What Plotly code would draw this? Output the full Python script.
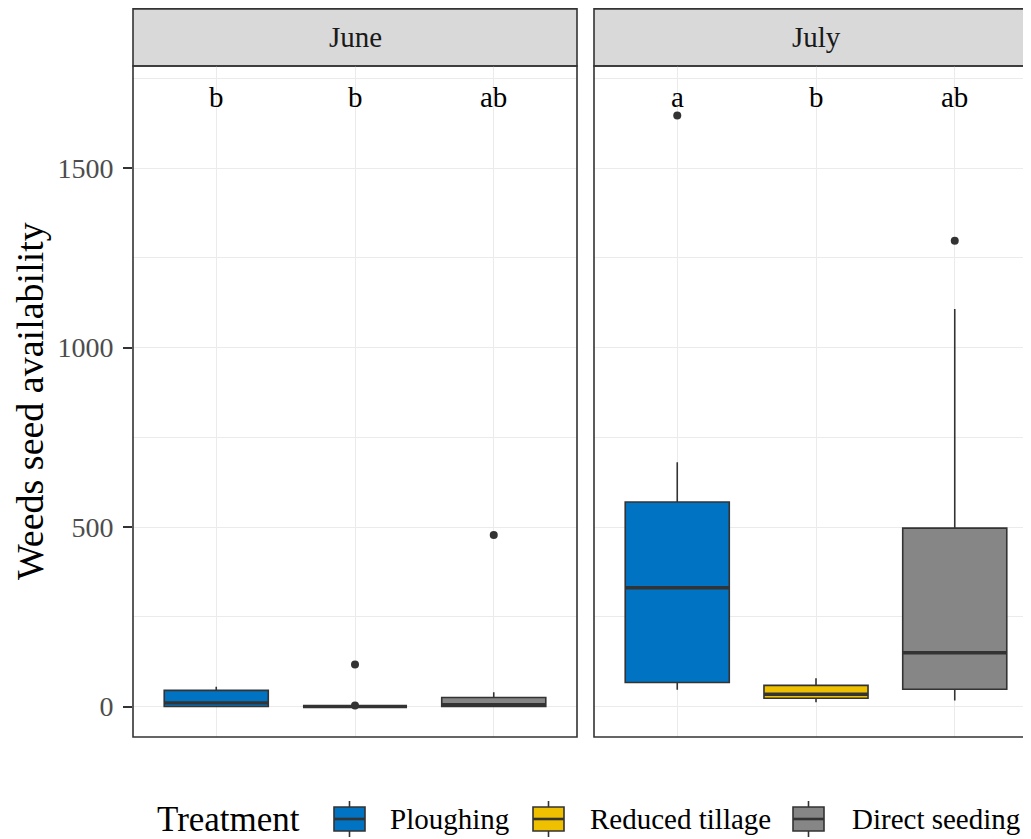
import plotly.graph_objects as go

# ---------------- data ----------------
months = ["June", "July"]
treatments = ["Ploughing", "Reduced tillage", "Direct seeding"]
colors = ["#0073C2", "#EFC000", "#868686"]

june_lower = [0, 0, 0]
june_q1 = [0, 0, 0]
june_median = [10, 0, 5]
june_q3 = [45, 0, 25]
june_upper = [55, 0, 40]
june_outliers = [[], [3, 117], [478]]
june_letters = ["b", "b", "ab"]

july_lower = [47, 12, 17]
july_q1 = [67, 23, 48]
july_median = [331, 34, 150]
july_q3 = [570, 59, 497]
july_upper = [681, 79, 1108]
july_outliers = [[1647], [], [1298]]
july_letters = ["a", "b", "ab"]

letter_y = 1700
y_ticks = [0, 500, 1000, 1500]

# ---------------- layout geometry (pixels, in page coordinates) ----------------
OFF = 8  # default page body margin
W, H = 1031 - OFF, 839 - OFF
ML, MR, MT, MB = 133 - OFF, 0, 0, H - (737 - OFF)
PW = W - ML - MR
PH = H - MT - MB


def px2x(px):
    return (px - OFF - ML) / PW


def px2y(py):
    return (H - MB - (py - OFF)) / PH


june_dom = [0, px2x(577)]
july_dom = [px2x(594), 1.0]
panel_top = px2y(66)
ppu_x = (577 - 133) / 3.2  # pixels per category unit
july_range = [0.4, 0.4 + (1031 - 594) / ppu_x]

FONT = "Liberation Serif"
BORDER = "#333333"
GRID = "#EBEBEB"
BOXW = 0.75

fig = go.Figure()

panels = [
    ("x", "y", june_lower, june_q1, june_median, june_q3, june_upper, june_outliers, june_letters),
    ("x2", "y2", july_lower, july_q1, july_median, july_q3, july_upper, july_outliers, july_letters),
]

annotations = []
for xa, ya, lo, q1, med, q3, up, outl, letters in panels:
    for i, t in enumerate(treatments):
        pos = i + 1
        fig.add_trace(go.Box(
            x=[pos], q1=[q1[i]], median=[med[i]], q3=[q3[i]],
            lowerfence=[lo[i]], upperfence=[up[i]],
            name=t, fillcolor=colors[i],
            line=dict(color=BORDER, width=1.6),
            whiskerwidth=0, width=BOXW, boxpoints=False,
            xaxis=xa, yaxis=ya, showlegend=False, hoverinfo="skip",
        ))
        fig.add_trace(go.Scatter(
            x=[pos - BOXW / 2, pos + BOXW / 2], y=[med[i], med[i]],
            mode="lines", line=dict(color=BORDER, width=3.4),
            xaxis=xa, yaxis=ya, showlegend=False, hoverinfo="skip",
        ))
        if outl[i]:
            fig.add_trace(go.Scatter(
                x=[pos] * len(outl[i]), y=outl[i], mode="markers",
                marker=dict(color=BORDER, size=8),
                xaxis=xa, yaxis=ya, showlegend=False, hoverinfo="skip",
            ))
        annotations.append(dict(
            x=pos, y=letter_y, xref=xa, yref=ya, text=letters[i],
            showarrow=False, xanchor="center", yanchor="middle",
            font=dict(family=FONT, size=29, color="black"),
        ))

shapes = []
strip_top = px2y(8.9)
for dom in (june_dom, july_dom):
    x1 = dom[1] if dom is june_dom else 1.02
    shapes.append(dict(type="rect", xref="paper", yref="paper",
                       x0=dom[0], x1=x1, y0=panel_top, y1=strip_top,
                       fillcolor="#D9D9D9", line=dict(color=BORDER, width=1.6),
                       layer="below"))
    shapes.append(dict(type="rect", xref="paper", yref="paper",
                       x0=dom[0], x1=x1, y0=0, y1=panel_top,
                       fillcolor="rgba(0,0,0,0)", line=dict(color=BORDER, width=1.6),
                       layer="above"))

strip_y = px2y(37)
annotations.append(dict(x=(june_dom[0] + june_dom[1]) / 2, y=strip_y, xref="paper", yref="paper",
                        text=months[0], showarrow=False, xanchor="center", yanchor="middle",
                        font=dict(family=FONT, size=29, color="#1A1A1A")))
annotations.append(dict(x=px2x(816), y=strip_y, xref="paper", yref="paper",
                        text=months[1], showarrow=False, xanchor="center", yanchor="middle",
                        font=dict(family=FONT, size=29, color="#1A1A1A")))

# y axis title
annotations.append(dict(x=px2x(30), y=px2y(401), xref="paper", yref="paper",
                        text="Weeds seed availability", textangle=-90, showarrow=False,
                        xanchor="center", yanchor="middle",
                        font=dict(family=FONT, size=38, color="black")))

# manual legend
leg_cy = 819
annotations.append(dict(x=px2x(155), y=px2y(leg_cy), xref="paper", yref="paper",
                        text="Treatment", showarrow=False, xanchor="left", yanchor="middle",
                        font=dict(family=FONT, size=35, color="black")))
key_left = [334, 533, 793]
text_left = [388, 588, 850]
for i, t in enumerate(treatments):
    kx0, kx1 = key_left[i], key_left[i] + 31
    kxm = (kx0 + kx1) / 2
    shapes.append(dict(type="line", xref="paper", yref="paper",
                       x0=px2x(kxm), x1=px2x(kxm), y0=px2y(801), y1=px2y(837),
                       line=dict(color=BORDER, width=1.6)))
    shapes.append(dict(type="rect", xref="paper", yref="paper",
                       x0=px2x(kx0), x1=px2x(kx1), y0=px2y(807), y1=px2y(831),
                       fillcolor=colors[i], line=dict(color=BORDER, width=1.6)))
    shapes.append(dict(type="line", xref="paper", yref="paper",
                       x0=px2x(kx0), x1=px2x(kx1), y0=px2y(819), y1=px2y(819),
                       line=dict(color=BORDER, width=2.6)))
    annotations.append(dict(x=px2x(text_left[i]), y=px2y(leg_cy), xref="paper", yref="paper",
                            text=t, showarrow=False, xanchor="left", yanchor="middle",
                            font=dict(family=FONT, size=29, color="black")))

common_x = dict(tickvals=[1, 2, 3], showticklabels=False, ticks="", showgrid=True,
                gridcolor=GRID, gridwidth=1.4, zeroline=False, showline=False)
common_y = dict(range=[-85, 1785], tickvals=y_ticks, showgrid=True, gridcolor=GRID,
                gridwidth=1.4, zeroline=False, showline=False,
                minor=dict(dtick=250, showgrid=True, gridcolor=GRID, gridwidth=0.8, ticks=""))

fig.update_layout(
    width=W, height=H,
    margin=dict(l=ML, r=MR, t=MT, b=MB, pad=0),
    paper_bgcolor="white", plot_bgcolor="white",
    xaxis=dict(domain=june_dom, range=[0.4, 3.6], anchor="y", **common_x),
    xaxis2=dict(domain=july_dom, range=july_range, anchor="y2", **common_x),
    yaxis=dict(domain=[0, panel_top], anchor="x", ticks="outside", ticklen=9, tickwidth=1.6,
               tickcolor=BORDER, ticklabelstandoff=4,
               tickfont=dict(family=FONT, size=28, color="#4D4D4D"), **common_y),
    yaxis2=dict(domain=[0, panel_top], anchor="x2", matches="y", showticklabels=False,
                ticks="", **common_y),
    shapes=shapes, annotations=annotations, showlegend=False,
)

fig.write_html("out.html")
